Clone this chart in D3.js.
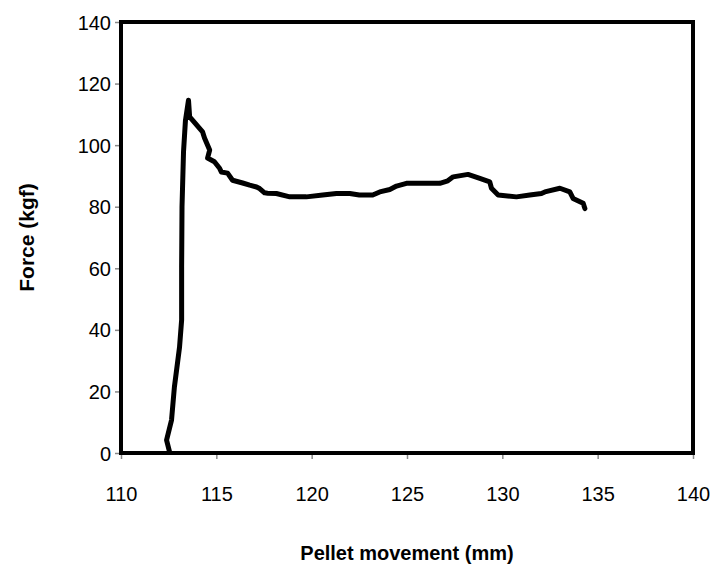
<!DOCTYPE html>
<html>
<head>
<meta charset="utf-8">
<script src="https://cdn.jsdelivr.net/npm/d3@7"></script>
<style>
  body { margin: 0; background: #fff; }
  text { font-family: "Liberation Sans", Arial, sans-serif; }
</style>
</head>
<body>
<div id="chart"></div>
<script>
const width = 715;
const height = 571;

// pellet movement (mm)
const movement = [112.55, 112.39, 112.65, 112.8, 113.07, 113.18, 113.18, 113.2, 113.28, 113.38, 113.54,
  113.6, 113.75, 114.28, 114.38, 114.65, 114.54, 114.9, 115.17, 115.26, 115.59, 115.85, 116.38, 116.75,
  117.11, 117.27, 117.53, 117.69, 118.15, 118.85, 119.72, 120.58, 121.3, 122.0, 122.5, 123.2, 123.57,
  124.1, 124.45, 124.97, 125.83, 126.72, 127.14, 127.42, 128.2, 128.82, 129.34, 129.43, 129.78, 130.74,
  131.44, 132.05, 132.23, 133.02, 133.54, 133.71, 134.24, 134.33];
// force (kgf)
const force = [0.3, 4.2, 10.7, 21.4, 34.4, 43.2, 60.4, 80, 98, 108, 114.6,
  109.2, 108.1, 104.3, 102.3, 98.4, 95.8, 94.6, 92.5, 91.3, 90.9, 88.6, 87.7, 87,
  86.4, 85.9, 84.5, 84.4, 84.3, 83.2, 83.2, 83.8, 84.3, 84.3, 83.8, 83.8, 84.8,
  85.6, 86.7, 87.6, 87.6, 87.6, 88.4, 89.7, 90.5, 89.2, 88.1, 86, 83.8, 83.2,
  83.8, 84.3, 84.8, 86, 84.8, 82.7, 81.1, 79.4];

const xTicks = [110, 115, 120, 125, 130, 135, 140];
const yTicks = [0, 20, 40, 60, 80, 100, 120, 140];

const points = movement.map((m, i) => ({ x: m, y: force[i] }));

const margin = { left: 121, right: 22, top: 22, bottom: 118 };

let x = d3.scaleLinear()
  .domain([110, 140])
  .range([margin.left, width - margin.right]);
let y = d3.scaleLinear()
  .domain([0, 140])
  .range([height - margin.bottom, margin.top]);

let svg = d3.select("#chart")
  .append("svg")
  .attr("width", width)
  .attr("height", height)
  .attr("viewBox", [0, 0, width, height]);

// axes
let xAxis = svg.append("g")
  .attr("transform", `translate(0,${y(0)})`)
  .call(d3.axisBottom(x).tickValues(xTicks).tickSize(6).tickSizeOuter(0).tickPadding(28));
let yAxis = svg.append("g")
  .attr("transform", `translate(${x(110)},0)`)
  .call(d3.axisLeft(y).tickValues(yTicks).tickSize(6).tickSizeOuter(0).tickPadding(4));

[xAxis, yAxis].forEach(a => {
  a.select(".domain").attr("stroke", "#888").attr("stroke-width", 1.5);
  a.selectAll(".tick line").attr("stroke", "#888").attr("stroke-width", 1.5);
  a.selectAll(".tick text")
    .attr("fill", "#000")
    .style("font-size", "20px")
    .style("font-family", "'Liberation Sans', Arial, sans-serif");
});
yAxis.selectAll(".tick text").attr("dy", "0.35em");

// plot area frame
svg.append("rect")
  .attr("x", x(110))
  .attr("y", y(140))
  .attr("width", x(140) - x(110))
  .attr("height", y(0) - y(140))
  .attr("fill", "none")
  .attr("stroke", "black")
  .attr("stroke-width", 4);

// curve
svg.append("path")
  .datum(points)
  .attr("fill", "none")
  .attr("stroke", "black")
  .attr("stroke-width", 5)
  .attr("stroke-linejoin", "round")
  .attr("stroke-linecap", "round")
  .attr("d", d3.line().x(d => x(d.x)).y(d => y(d.y)));

// axis titles
svg.append("text")
  .attr("x", (x(110) + x(140)) / 2)
  .attr("y", 560)
  .attr("text-anchor", "middle")
  .style("font-size", "20px")
  .style("font-weight", "bold")
  .text("Pellet movement (mm)");

svg.append("text")
  .attr("transform", `translate(34,${(y(0) + y(140)) / 2}) rotate(-90)`)
  .attr("text-anchor", "middle")
  .style("font-size", "21px")
  .style("font-weight", "bold")
  .text("Force (kgf)");
</script>
</body>
</html>
